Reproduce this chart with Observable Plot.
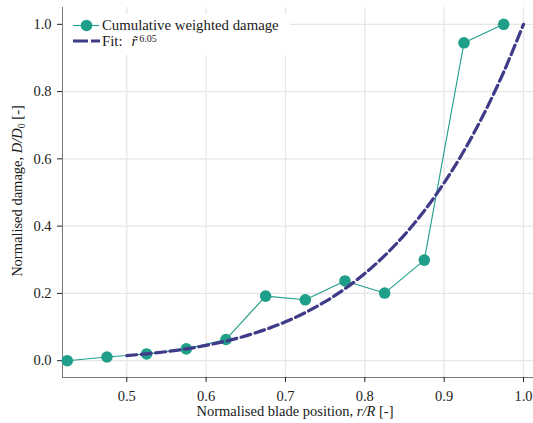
<!DOCTYPE html>
<html>
<head>
<meta charset="utf-8">
<script src="https://cdn.jsdelivr.net/npm/d3@7"></script>
<script src="https://cdn.jsdelivr.net/npm/@observablehq/plot@0.6"></script>
<style>
  html, body { margin: 0; padding: 0; background: #fff; }
  #chart svg { display: block; }
  #chart svg, #chart svg text, #chart svg tspan { font-family: "Liberation Serif", "Times New Roman", Times, serif !important; }
</style>
</head>
<body>
<div id="chart"></div>
<script>
// Blade sections (normalised radius r/R) and cumulative weighted damage D/D0
const radius = [0.425, 0.475, 0.525, 0.575, 0.625, 0.675, 0.725, 0.775, 0.825, 0.875, 0.925, 0.975];
const damage = [0.000, 0.011, 0.020, 0.035, 0.063, 0.192, 0.181, 0.237, 0.201, 0.299, 0.945, 1.000];

// Power-law fit  D/D0 = r^6.05, tabulated along the blade
const fitExponent = "6.05";
const fitRadius = [0.500, 0.525, 0.550, 0.575, 0.600, 0.625, 0.650, 0.675, 0.700, 0.725, 0.750,
                   0.775, 0.800, 0.825, 0.850, 0.875, 0.900, 0.925, 0.950, 0.975, 1.000];
const fitDamage = [0.01509, 0.02028, 0.02687, 0.03516, 0.04548, 0.05822, 0.07381, 0.09274, 0.11557, 0.14290, 0.17544,
                   0.21393, 0.25924, 0.31228, 0.37409, 0.44581, 0.52865, 0.62396, 0.73321, 0.85798, 1.00000];

const xTicks = [0.5, 0.6, 0.7, 0.8, 0.9, 1.0];
const yTicks = [0.0, 0.2, 0.4, 0.6, 0.8, 1.0];
const xDomain = [0.419, 1.0126];
const yDomain = [-0.05, 1.05];

const teal = "#1f9e89";
const indigo = "#3f3b88";

const points = radius.map((r, i) => ({r, d: damage[i]}));
const fit = fitRadius.map((r, i) => ({r, d: fitDamage[i]}));
const fmt = d3.format(".1f");

const chart = Plot.plot({
  width: 533,
  height: 423,
  marginLeft: 62,
  marginRight: 0,
  marginTop: 7,
  marginBottom: 46,
  style: {fontSize: "14.5px", color: "#222", background: "#fff"},
  x: {domain: xDomain},
  y: {domain: yDomain},
  marks: [
    Plot.gridX(xTicks, {stroke: "#e6e6e6", strokeOpacity: 1, strokeWidth: 1.3}),
    Plot.gridY(yTicks, {stroke: "#e6e6e6", strokeOpacity: 1, strokeWidth: 1.3}),
    Plot.ruleX([xDomain[0]], {stroke: "#7a7a7a", strokeWidth: 1}),
    Plot.ruleY([yDomain[0]], {stroke: "#7a7a7a", strokeWidth: 1}),
    Plot.axisX(xTicks, {tickSize: 5, tickPadding: 8, tickFormat: fmt, label: null, stroke: "#222", fill: "#222"}),
    Plot.axisY(yTicks, {tickSize: 5, tickPadding: 6, tickFormat: fmt, label: null, stroke: "#222", fill: "#222"}),
    Plot.line(points, {x: "r", y: "d", stroke: teal, strokeWidth: 1.1}),
    Plot.dot(points, {x: "r", y: "d", r: 5.8, fill: teal, stroke: "none"}),
    Plot.line(fit, {x: "r", y: "d", stroke: indigo, strokeWidth: 3.2,
                    strokeDasharray: "10,4.5", curve: "catmull-rom"})
  ]
});

document.getElementById("chart").append(chart);

// Axis titles with italic symbols
const svg = d3.select(chart);

const xt = svg.append("text")
  .attr("x", 295).attr("y", 416)
  .attr("text-anchor", "middle")
  .attr("font-size", "14.5px").attr("fill", "#1a1a1a");
xt.append("tspan").text("Normalised blade position, ");
xt.append("tspan").attr("font-style", "italic").text("r/R");
xt.append("tspan").text(" [-]");

const yt = svg.append("text")
  .attr("transform", "translate(22,191) rotate(-90)")
  .attr("text-anchor", "middle")
  .attr("font-size", "14.5px").attr("fill", "#1a1a1a");
yt.append("tspan").text("Normalised damage, ");
yt.append("tspan").attr("font-style", "italic").text("D/D");
yt.append("tspan").attr("font-size", "10px").attr("dy", "3").text("0");
yt.append("tspan").attr("dy", "-3").text(" [-]");

// Legend box in the upper-left corner of the panel
const lg = svg.append("g").attr("text-anchor", "start");
lg.append("rect").attr("x", 63).attr("y", 14).attr("width", 227).attr("height", 41).attr("fill", "#fff");

lg.append("line").attr("x1", 73).attr("x2", 99).attr("y1", 25.5).attr("y2", 25.5)
  .attr("stroke", teal).attr("stroke-width", 1.1);
lg.append("circle").attr("cx", 86.5).attr("cy", 25.5).attr("r", 5.8).attr("fill", teal);
lg.append("text").attr("x", 102).attr("y", 29.5)
  .attr("font-size", "14.8px").attr("fill", "#1a1a1a")
  .text("Cumulative weighted damage");

lg.append("line").attr("x1", 73).attr("x2", 100).attr("y1", 41).attr("y2", 41)
  .attr("stroke", indigo).attr("stroke-width", 3.2).attr("stroke-dasharray", "15,3");
const ft = lg.append("text").attr("x", 102).attr("y", 46)
  .attr("font-size", "14.8px").attr("fill", "#1a1a1a");
ft.append("tspan").text("Fit:");
ft.append("tspan").attr("font-style", "italic").attr("dx", 9).text("r\u0303");
ft.append("tspan").attr("font-size", "10px").attr("dy", "-4").attr("dx", "2").text(fitExponent);
</script>
</body>
</html>
